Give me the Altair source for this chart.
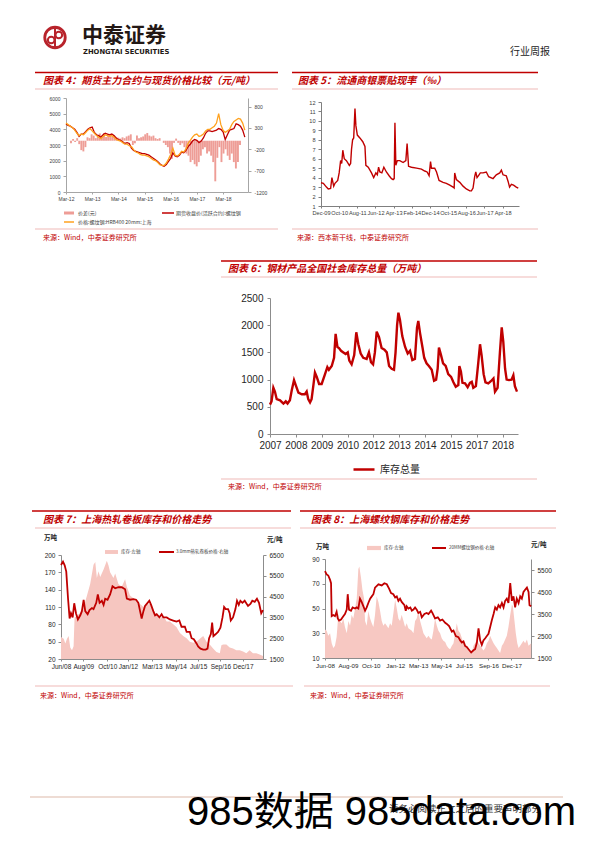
import json
import altair as alt
import pandas as pd

W, H = 580, 826
M = 8

RED = "#C00000"
ORANGE = "#FFA21F"
PINK4 = "#EE9D96"
PINK7 = "#F6C6C0"
PINK8 = "#F7C8C2"
THIN = "#EBA7A5"
CJK = "Noto Sans CJK SC"
LAT = "Liberation Sans"

# ---------------- chart 4 data ----------------
c4_xlabels = ["Mar-12", "Mar-13", "Mar-14", "Mar-15", "Mar-16", "Mar-17", "Mar-18"]
c4_xticks = [0, 12, 24, 36, 48, 60, 72]
c4_names = ["价差(元)", "期货收盘价(活跃合约):螺纹钢", "价格:螺纹钢:HRB400 20mm:上海"]
c4_futures = [4350, 4250, 4200, 4100, 4000, 3800, 3550, 3700, 3700, 3850,
              4000, 4100, 4150, 3800, 3650, 3600, 3500, 3650, 3750, 3700,
              3650, 3700, 3600, 3450, 3350, 3300, 3200, 3100, 3150, 3100,
              2800, 2650, 2600, 2550, 2500, 2450, 2450, 2400, 2350, 2250,
              2150, 2050, 1950, 1800, 1700, 1650, 1750,
              1950, 2150, 2500, 2300, 2250, 2350, 2550, 2500, 2650, 2900,
              3050, 3250, 3350, 3300, 3150, 3250, 3450, 3750, 3900, 3900,
              3850, 3900, 3950, 4050, 4000, 3850, 3350, 3650, 3950, 4000,
              4050, 4350, 4300, 4200, 3950, 3500]
c4_spot = [4400, 4300, 4200, 4100, 3950, 3750, 3600, 3700, 3650, 3800,
           3950, 4050, 3900, 3750, 3600, 3500, 3400, 3550, 3650, 3600,
           3550, 3600, 3500, 3350, 3300, 3250, 3150, 3050, 3050, 2950,
           2900, 2700, 2550, 2500, 2400, 2350, 2350, 2300, 2250, 2150,
           2050, 2000, 1900, 1750, 1700, 1700, 1850,
           2100, 2400, 2800, 2350, 2300, 2400, 2600, 2550, 2750, 3100,
           3300, 3500, 3650, 3700, 3550, 3600, 3700, 3900, 4000, 4000,
           4100, 4200, 4400, 5000, 4300, 3950, 3800, 3900, 4000, 4300,
           4500, 4600, 4700, 4650, 4400, 3950]
c4_spread = [-60, 40, -30, 60, -80, -220, -250, -150, 80, 60,
             150, 120, 60, 100, 170, 120, 180, 90, 130, 160,
             100, 120, 90, 70, 50, 80, 60, 100, 120, 150,
             -100, -60, 120, 60, 80, 100, 150, 180, 120, 100,
             120, 60, 40, 60, 0, -50, -100,
             -150, -300, -420, -50, 50, -50, -100, -60, -150, -300,
             -350, -500, -450, -550, -600, -500, -350, -200, -150, -300,
             -250, -350, -500, -950, -400, -150, -500, -300, -200, -350,
             -450, -300, -500, -650, -500, -100]
c4_months = list(range(len(c4_futures)))

# ---------------- chart 5 data ----------------
c5_xlabels = ["Dec-09", "Oct-10", "Aug-11", "Jun-12", "Apr-13", "Feb-14",
              "Dec-14", "Oct-15", "Aug-16", "Jun-17", "Apr-18"]
c5_xticks = [0, 10, 20, 30, 40, 50, 60, 70, 80, 90, 100]
c5_month = [0, 1.3, 3, 4, 5.3, 6, 7, 7.7, 9.2, 10,
            10.8, 11.4, 12, 12.8, 14, 15.6, 16.3, 16.8, 17.4, 18,
            18.7, 19.2, 20, 21.4, 23, 24.2, 24.7, 26, 27.8, 29,
            30.2, 31, 31.7, 32.4, 33.5, 34.6, 36, 37.5, 38.8, 39.7,
            40.3, 40.7, 41.2, 42, 43.4, 45.2, 46.7, 47.4, 48.2, 49.8,
            52.6, 55.3, 57.1, 58.4, 59.5, 60.3, 60.8, 62.6, 63.6, 65,
            67.2, 69, 70.9, 72.7, 73.3, 73.6, 74.5, 76.4, 78.2, 80,
            81.9, 82.8, 83.7, 84.6, 85.2, 85.9, 87, 87.7, 89.2, 91,
            92.3, 94.7, 96.5, 98.4, 99.3, 100.2, 102, 103, 103.8, 104.8,
            106, 107.5, 108.6]
c5_rate = [3.46, 3.4, 3.0, 2.8, 2.85, 4.0, 3.1, 3.4, 3.7, 4.5,
           5.8, 5.5, 6.9, 6.0, 5.8, 5.3, 5.5, 7.0, 8.0, 8.2,
           11.3, 9.5, 8.5, 8.2, 7.8, 7.3, 5.3, 5.1, 4.5, 4.0,
           4.5, 4.3, 5.1, 4.6, 4.5, 5.1, 4.6, 4.2, 3.9, 3.8,
           3.9, 9.8, 5.3, 5.8, 5.8, 5.6, 5.8, 7.6, 5.2, 5.1,
           5.0, 4.9, 4.7, 4.6, 4.2, 5.7, 5.0, 5.0, 4.6, 3.7,
           3.5, 3.4, 3.2, 3.0, 2.9, 4.5, 3.8, 3.5, 3.1, 2.8,
           2.6, 2.6, 2.9, 4.1, 4.6, 4.0, 4.3, 4.5, 4.5, 4.6,
           4.1, 3.9, 4.3, 4.5, 4.8, 4.3, 4.2, 3.6, 3.0, 3.3,
           3.2, 3.0, 2.9]

# ---------------- chart 6 data ----------------
c6_xlabels = ["2007", "2008", "2009", "2010", "2012", "2013", "2014", "2015", "2017", "2018"]
c6_xticks = [0, 10, 20, 30, 40, 50, 60, 70, 80, 90]
c6_name = "库存总量"
c6_pos = [0, 0.6, 1.3, 1.9, 2.6, 3.9, 5.2, 6.1, 6.8, 7.7,
          8.4, 9.3, 10.1, 11, 12.3, 13.5, 14.2, 14.8, 15.5, 16.1,
          16.8, 17.4, 18.1, 19, 20, 21.3, 22.2, 22.8, 23.9, 24.8,
          25.4, 26.1, 26.7, 27.5, 28.4, 29.3, 30.1, 30.7, 31.6, 32.6,
          33.4, 34.2, 35.1, 36.1, 37.4, 38.3, 39.1, 39.9, 40.6, 41.3,
          42.2, 43.2, 44.3, 45.2, 46.1, 47.1, 48, 48.6, 49.2, 49.7,
          50.3, 51.2, 52.3, 53.3, 54.2, 55.1, 56.1, 56.9, 57.4, 58.1,
          59, 59.7, 60.6, 61.5, 62.6, 63.5, 64.3, 64.9, 65.4, 66.2,
          67, 68, 69, 70.1, 71, 71.9, 72.9, 73.3, 73.9, 74.5,
          75.5, 76.5, 77.4, 78.1, 78.7, 79.7, 80.6, 81.3, 81.9, 82.7,
          83.4, 84.5, 85.5, 86.5, 87.1, 88.1, 89, 89.7, 90.3, 91,
          91.6, 92.5, 93.5, 94.2, 94.8, 95.6]
c6_stock = [540, 600, 850, 780, 640, 620, 560, 600, 560, 620,
            800, 990, 880, 760, 730, 730, 780, 640, 580, 640,
            900, 1130, 1050, 920, 920, 1100, 1230, 1180, 1250, 1400,
            1840, 1600, 1580, 1530, 1500, 1470, 1500, 1350, 1280, 1450,
            1870, 1650, 1480, 1400, 1380, 1500, 1320, 1280, 1500, 1880,
            1780, 1580, 1550, 1500, 1250, 1200, 1180, 1500, 2000, 2230,
            2100, 1800, 1600, 1480, 1530, 1360, 1380, 1950, 2080, 1850,
            1600, 1400, 1300, 1250, 1180, 980, 1000, 1200, 1590, 1450,
            1300, 1250, 1100, 1050, 950, 870, 900, 1250, 1150, 940,
            930, 860, 940, 960, 850, 880, 1300, 1650, 1450, 1100,
            950, 930, 970, 1020, 780, 850, 1500, 1960, 1700, 1200,
            1000, 990, 1000, 1080, 880, 780]

# ---------------- chart 7 data ----------------
c7_xlabels = ["Jun/08", "Aug/09", "Oct/10", "Jan/12", "Mar/13", "May/14", "Jul/15", "Sep/16", "Dec/17"]
c7_xticks = [0, 14, 29, 42, 57, 72, 86, 100, 114]
c7_names = ["库存-左轴", "3.0mm热轧卷板价格-右轴"]
c7_price_m = [0, 1.25, 2.3, 3.3, 4.4, 5.4, 6.25, 7.3, 8.3, 9.4,
              10.6, 12.1, 13.1, 14.2, 15.2, 16.7, 17.9, 19.4, 20.4, 22.1,
              23.1, 24.2, 25.6, 26.7, 27.7, 29.2, 30.8, 32.3, 34, 36,
              38.1, 40.2, 41.3, 43.3, 45.4, 47.1, 48.5, 49.6, 50.6, 51.7,
              52.7, 53.8, 55.4, 56.5, 57.9, 59, 60, 61.7, 63.1, 64.2,
              66.3, 68.3, 70.4, 72.5, 74.2, 75.6, 77.7, 78.8, 80.8, 81.9,
              83.3, 85, 86, 87.5, 89.2, 90.8, 91.9, 92.9, 94, 94.8,
              95.6, 97.1, 98.5, 100, 101.3, 102.3, 103.3, 104.8, 105.8, 106.5,
              107.9, 109.4, 110.4, 111.5, 112.5, 113.8, 115.2, 117.3, 118.8, 120,
              121.5, 122.9, 124.2, 125.6, 126.7]
c7_price = [6020, 6180, 6000, 5700, 4420, 3450, 3700, 3500, 4180, 3700,
            3400, 3600, 3800, 4340, 3800, 3650, 3850, 3950, 3900, 4200,
            4600, 4200, 4300, 4100, 4400, 4350, 4600, 5000, 4900, 4950,
            4950, 4850, 4400, 4350, 4380, 4350, 4200, 3800, 3450, 3800,
            4050, 4150, 4300, 4100, 3800, 3600, 3650, 3500, 3650, 3500,
            3500, 3400, 3350, 3300, 3350, 3050, 3050, 2800, 2800, 2500,
            2450, 2250, 2100, 2000, 1950, 1950, 2000, 2500, 2700, 3250,
            2600, 2700, 2800, 3000, 3500, 4000, 3900, 3900, 3700, 3350,
            3500, 3900, 4300, 4100, 4300, 4200, 4300, 4050, 4150, 4300,
            4250, 4400, 4200, 3700, 3850]
c7_stock_m = [0, 1.7, 2.7, 3.75, 4.8, 5.8, 6.9, 7.9, 8.5, 10,
              12.1, 14.2, 16.3, 18.3, 20.4, 21.5, 22.5, 23.5, 24.6, 26.7,
              28.75, 29.8, 30.8, 32.9, 34, 36, 38.1, 40.2, 41.3, 43.3,
              45.4, 47.5, 49.6, 51.7, 53.75, 55.8, 57.9, 60, 62.1, 64.2,
              66.25, 68.3, 70.4, 72.5, 74.6, 76.7, 78.75, 80.8, 82.9, 85,
              87.1, 89.2, 91.25, 93.3, 95.4, 97.5, 99.6, 100.6, 101.7, 103.75,
              105.8, 107.9, 110, 112.1, 114.2, 116.25, 118.3, 120.4, 122.5, 124.6,
              126.7]
c7_stock = [58, 55, 47, 55, 60, 40, 35, 42, 92, 95,
            100, 110, 130, 150, 183, 188, 160, 172, 162, 175,
            190, 182, 170, 160, 168, 150, 145, 158, 145, 130,
            125, 120, 115, 110, 114, 115, 105, 95, 90, 95,
            85, 85, 80, 75, 65, 60, 56, 50, 48, 50,
            55, 60, 50, 45, 38, 32, 30, 44, 45, 45,
            40, 38, 35, 35, 33, 30, 35, 30, 30, 28,
            25]

# ---------------- chart 8 data ----------------
c8_xlabels = ["Jun-08", "Aug-09", "Oct-10", "Jan-12", "Mar-13", "May-14", "Jul-15", "Sep-16", "Dec-17"]
c8_xticks = [0, 14, 28, 43, 57, 71, 85, 100, 114]
c8_names = ["库存-左轴", "20MM螺纹钢价格-右轴"]
c8_price_m = [0, 1, 2, 3.1, 3.7, 4.1, 5.1, 6.1, 7.1, 7.8,
              8.6, 9.8, 11.2, 12.2, 13.3, 13.9, 14.7, 15.9, 16.9, 18.4,
              19.4, 20.4, 21.4, 22.4, 23.5, 24.5, 25.5, 26.5, 27.6, 28.6,
              29.6, 30.6, 32.7, 34.7, 36.3, 37.8, 39.2, 40.4, 41.8, 42.9,
              43.9, 44.9, 45.9, 46.9, 48.6, 49.4, 50, 51, 52.2, 53.1,
              54.1, 55.1, 56.1, 57.1, 58.2, 59.2, 60.8, 62.2, 63.3, 64.9,
              65.7, 67.3, 69, 70.4, 71.8, 73.5, 74.5, 75.9, 77.6, 78.6,
              80, 81.6, 82.7, 83.7, 84.7, 85.7, 86.7, 87.8, 89.4, 90.8,
              91.8, 92.9, 93.9, 94.9, 95.9, 96.9, 98, 99, 100, 101,
              102, 103.1, 104.1, 105.1, 106.1, 107.1, 108.2, 109.2, 110.2, 111.2,
              112.2, 113.3, 114.3, 115.3, 116.3, 117.3, 118.4, 119.4, 120.4, 121.4,
              122.4, 123.5, 124.5, 125.1, 126.1]
c8_price = [5450, 5300, 5250, 5050, 4900, 3400, 3450, 3400, 3600, 3300,
            3200, 3250, 3400, 3500, 3700, 4400, 3700, 3650, 3800, 3750,
            3800, 3750, 4200, 4050, 3850, 3650, 3800, 4000, 4200, 4300,
            4400, 4700, 4850, 4800, 4900, 4850, 4650, 4450, 4400, 4250,
            4300, 4100, 4200, 4050, 3900, 3650, 3850, 3750, 3800, 3650,
            3700, 3800, 3700, 3550, 3600, 3350, 3500, 3550, 3500, 3650,
            3550, 3300, 3350, 3200, 3250, 3100, 3050, 2950, 2700, 2750,
            2500, 2450, 2300, 2200, 2250, 2050, 2000, 1900, 1750, 1850,
            1900, 2200, 2850, 2300, 2100, 2300, 2400, 2500, 2600, 2900,
            3200, 3500, 3800, 3700, 3900, 3800, 4000, 3800, 4100, 4200,
            4000, 4900, 4100, 4300, 3800, 4200, 4000, 4300, 4200, 4500,
            4600, 4700, 4500, 3900, 3850]
c8_stock_m = [0, 1, 2, 3.1, 4.1, 5.1, 6.1, 7.1, 8.2, 9.2,
              10.2, 11.2, 12.2, 13.3, 14.3, 15.3, 16.3, 17.3, 18.4, 19.4,
              20.4, 21, 22, 22.9, 23.9, 24.5, 25.5, 26.5, 27.6, 28.6,
              29.6, 30.6, 31.6, 32.7, 33.7, 34.7, 35.7, 36.7, 37.8, 38.8,
              39.8, 40.8, 41.8, 42.9, 43.9, 44.9, 45.9, 46.9, 48, 49,
              50, 51, 53.1, 54.1, 55.1, 56.1, 57.1, 58.2, 59.2, 60.2,
              61.2, 62.2, 63.3, 64.3, 65.3, 66.3, 67.3, 68.4, 69.4, 70.4,
              71.4, 72.4, 73.5, 74.5, 75.5, 76.5, 77.6, 78.6, 79.6, 80.6,
              81.6, 82.7, 83.7, 84.7, 85.7, 86.7, 87.8, 88.8, 89.8, 90.8,
              91.8, 92.9, 93.9, 94.9, 95.9, 96.9, 98, 99, 100, 101,
              102, 103.1, 104.1, 105.1, 106.1, 107.1, 108.2, 109.2, 110.2, 111.2,
              112.2, 113.3, 114.3, 114.9, 115.9, 116.7, 117.6, 118.4, 119.4, 120.4,
              121.4, 122.4, 123.5, 124.5, 126.1]
c8_stock = [33, 32, 28, 30, 22, 18, 20, 27, 46, 40,
            38, 42, 35, 30, 40, 36, 45, 42, 50, 58,
            82, 84, 75, 65, 58, 40, 36, 48, 42, 38,
            35, 45, 60, 55, 48, 40, 36, 38, 36, 34,
            38, 36, 46, 57, 50, 42, 40, 45, 40, 35,
            38, 34, 32, 30, 40, 42, 48, 40, 35, 30,
            28, 26, 28, 26, 25, 32, 42, 36, 32, 30,
            26, 24, 23, 20, 18, 17, 20, 22, 30, 38,
            32, 30, 26, 22, 20, 18, 17, 15, 14, 20,
            22, 25, 22, 20, 18, 16, 18, 22, 24, 28,
            25, 22, 20, 18, 16, 14, 20, 22, 25, 28,
            35, 45, 53, 52, 40, 30, 22, 18, 20, 22,
            24, 22, 25, 20, 22]

# ---------------- page texts ----------------
titles = ["图表 4：期货主力合约与现货价格比较（元/吨）",
          "图表 5：流通商银票贴现率（‰）",
          "图表 6：钢材产品全国社会库存总量（万吨）",
          "图表 7：上海热轧卷板库存和价格走势",
          "图表 8：上海螺纹钢库存和价格走势"]
src_wind = "来源：Wind，中泰证券研究所"
src_xb = "来源：西本新干线，中泰证券研究所"


# ---------------- helpers ----------------
def px(v):
    return v - M


one = pd.DataFrame({"k": [0]})


def lab_expr(ticks, labels):
    return "%s[indexof(%s, datum.value)]" % (json.dumps(labels, ensure_ascii=False), json.dumps(ticks))


def xscale(dom, p0, p1):
    return alt.Scale(domain=dom, range=[px(p0), px(p1)], nice=False, zero=False)


def yscale(dom, pb, pt):
    return alt.Scale(domain=dom, range=[px(pb), px(pt)], nice=False, zero=False)


def common(size, color="#404040", dom="#A6A6A6"):
    return dict(labelFont=LAT, labelFontSize=size, labelColor=color, domainColor=dom,
                tickColor=dom, grid=False, title=None, labelOverlap=False,
                labelFlush=False, labelBound=False, domainWidth=1, tickWidth=1, labelAngle=0)


def xaxis(page_y, ticks, labels, size, tick=2, pad=2, **kw):
    return alt.Axis(orient="bottom", offset=px(page_y) - H, values=ticks,
                    labelExpr=lab_expr(ticks, labels), tickSize=tick, labelPadding=pad,
                    **common(size, **kw))


def yaxis(page_x, side, ticks, size, tick=3, pad=3, **kw):
    off = -px(page_x) if side == "left" else px(page_x) - W
    return alt.Axis(orient=side, offset=off, values=ticks, labelExpr="'' + datum.value",
                    tickSize=tick, labelPadding=pad, **common(size, **kw))


RECT = "M-1,-0.3H1V0.3H-1Z"


def legend(x0, x1, y, symtype, font=5, stroke=None, loff=3, color="#404040"):
    w = x1 - x0
    kw = dict(orient="none", legendX=px(x0), legendY=px(y) - w / 2, title=None,
              symbolType=symtype, symbolSize=w * w, labelFont=CJK, labelFontSize=font,
              labelColor=color, labelOffset=loff, padding=0, labelLimit=400,
              symbolOpacity=1)
    if stroke:
        kw["symbolStrokeWidth"] = stroke
    return alt.Legend(**kw)


def colorenc(name, col, lg):
    return alt.Color("s:N", scale=alt.Scale(domain=[name], range=[col]), legend=lg)


def txt(s, x, y, size, color="#333333", font=CJK, weight="normal", style="normal",
        align="left", baseline="middle"):
    return alt.Chart(one).mark_text(text=s, fontSize=size, color=color, font=font,
                                    fontWeight=weight, fontStyle=style, align=align,
                                    baseline=baseline).encode(x=alt.value(px(x)), y=alt.value(px(y)))


def hline(x1, x2, y, color, width):
    return alt.Chart(one).mark_rule(color=color, strokeWidth=width).encode(
        x=alt.value(px(x1)), x2=alt.value(px(x2)), y=alt.value(px(y)))


layers = []

# ---------------- header ----------------
LOGO = "#B8232B"
layers.append(alt.Chart(one).mark_point(shape="circle", filled=False, color=LOGO, strokeWidth=2.8,
                                        size=420, opacity=1).encode(x=alt.value(px(55)), y=alt.value(px(37.5))))
layers.append(alt.Chart(one).mark_rule(color=LOGO, strokeWidth=2).encode(
    x=alt.value(px(55)), y=alt.value(px(27)), y2=alt.value(px(48))))
layers.append(alt.Chart(one).mark_point(shape="circle", filled=False, color=LOGO, strokeWidth=2,
                                        size=45, opacity=1).encode(x=alt.value(px(51.2)), y=alt.value(px(40))))
layers.append(alt.Chart(one).mark_point(shape="circle", filled=False, color=LOGO, strokeWidth=2,
                                        size=45, opacity=1).encode(x=alt.value(px(58.8)), y=alt.value(px(35))))
layers.append(txt("中泰证券", 82, 35.5, 21, color="#231815", weight="bold"))
layers.append(txt("ZHONGTAI SECURITIES", 83, 51.5, 6.8, color="#231815", font="DejaVu Sans", weight="bold"))
layers.append(txt("行业周报", 510, 51.5, 10, color="#222222"))

# ---------------- frames: rules, titles, sources ----------------
for (a, b, y) in [(35, 278, 72.5), (292, 538, 72.5), (221, 537, 261), (32, 291, 511), (300, 556, 511)]:
    layers.append(hline(a, b, y, RED, 1.6))
for (a, b, y) in [(35, 278, 89), (292, 538, 89), (35, 278, 229), (292, 538, 229),
                  (221, 537, 277), (221, 537, 479),
                  (35, 291, 528), (300, 556, 528), (35, 293, 686), (304, 550, 686)]:
    layers.append(hline(a, b, y, THIN, 0.8))
for (t, x, y) in zip(titles, [43, 298, 228, 43, 311], [81, 81, 268.5, 520, 520]):
    layers.append(txt(t, x, y, 10, color=RED, weight="bold", style="italic"))
for (t, x, y) in [(src_wind, 43, 238), (src_xb, 297, 237.5), (src_wind, 228, 487),
                  (src_wind, 40, 696), (src_wind, 310, 696)]:
    layers.append(txt(t, x, y, 7, color=RED))

# ---------------- chart 4 ----------------
x4 = xscale([0, 83.45], 66, 248)
y4l = yscale([0, 6000], 192, 98)
y4r = yscale([-1200, 1000], 192, 98)
d4a = pd.DataFrame({"m": c4_months, "v": c4_spread, "s": c4_names[0]})
d4f = pd.DataFrame({"m": c4_months, "v": c4_futures, "s": c4_names[1]})
d4s = pd.DataFrame({"m": c4_months, "v": c4_spot, "s": c4_names[2]})
layers.append(alt.Chart(d4a).mark_bar(opacity=1, size=1.9).encode(
    x=alt.X("m:Q", scale=x4, axis=None),
    y=alt.Y("v:Q", scale=y4r, axis=yaxis(248, "right", [-1200, -700, -200, 300, 800], 5)),
    y2=alt.datum(0),
    color=colorenc(c4_names[0], PINK4, legend(63, 73, 212, RECT, loff=3))))
layers.append(alt.Chart(d4f).mark_line(strokeWidth=1.3).encode(
    x=alt.X("m:Q", scale=x4, axis=xaxis(192, c4_xticks, c4_xlabels, 5)),
    y=alt.Y("v:Q", scale=y4l, axis=yaxis(66, "left", [0, 1000, 2000, 3000, 4000, 5000, 6000], 5)),
    color=colorenc(c4_names[1], RED, legend(161, 173, 212, "stroke", stroke=1.5, loff=1))))
layers.append(alt.Chart(d4s).mark_line(strokeWidth=1.3).encode(
    x=alt.X("m:Q", scale=x4, axis=None),
    y=alt.Y("v:Q", scale=y4l, axis=None),
    color=colorenc(c4_names[2], ORANGE, legend(63, 73, 221, "stroke", stroke=1.5, loff=3))))

# ---------------- chart 5 ----------------
d5 = pd.DataFrame({"m": c5_month, "v": c5_rate})
layers.append(alt.Chart(d5).mark_line(strokeWidth=1.4, color=RED).encode(
    x=alt.X("m:Q", scale=xscale([0, 109], 321, 519),
            axis=xaxis(206, c5_xticks, c5_xlabels, 5.6, dom="#7F7F7F")),
    y=alt.Y("v:Q", scale=yscale([1, 12], 206, 102),
            axis=yaxis(321, "left", list(range(1, 13)), 5.6, dom="#7F7F7F"))))

# ---------------- chart 6 ----------------
d6 = pd.DataFrame({"m": c6_pos, "v": c6_stock, "s": c6_name})
layers.append(alt.Chart(d6).mark_line(strokeWidth=2.4).encode(
    x=alt.X("m:Q", scale=xscale([0, 96], 270, 518),
            axis=xaxis(434, c6_xticks, c6_xlabels, 10, tick=3, pad=3, color="#262626", dom="#8C8C8C")),
    y=alt.Y("v:Q", scale=yscale([0, 2500], 434, 298),
            axis=yaxis(270, "left", [0, 500, 1000, 1500, 2000, 2500], 10, tick=3, pad=4,
                       color="#262626", dom="#8C8C8C")),
    color=colorenc(c6_name, RED, legend(352, 373, 468, "stroke", font=10, stroke=2.5, loff=4,
                                        color="#262626"))))

# ---------------- chart 7 ----------------
x7 = xscale([0, 126.7], 61, 263)
d7a = pd.DataFrame({"m": c7_stock_m, "v": c7_stock, "s": c7_names[0]})
d7p = pd.DataFrame({"m": c7_price_m, "v": c7_price, "s": c7_names[1]})
layers.append(alt.Chart(d7a).mark_area(opacity=1).encode(
    x=alt.X("m:Q", scale=x7, axis=None),
    y=alt.Y("v:Q", scale=yscale([20, 200], 659, 555),
            axis=yaxis(61, "left", list(range(20, 201, 30)), 6.5, color="#262626", dom="#8C8C8C")),
    y2=alt.datum(20),
    color=colorenc(c7_names[0], PINK7, legend(104, 117, 551, RECT, font=4.5, loff=2))))
layers.append(alt.Chart(d7p).mark_line(strokeWidth=1.8).encode(
    x=alt.X("m:Q", scale=x7, axis=xaxis(659, c7_xticks, c7_xlabels, 6.5, color="#262626", dom="#8C8C8C")),
    y=alt.Y("v:Q", scale=yscale([1500, 6500], 659, 555),
            axis=yaxis(263, "right", list(range(1500, 6501, 1000)), 6.5, color="#262626", dom="#8C8C8C")),
    color=colorenc(c7_names[1], RED, legend(158, 173, 551, "stroke", font=4.5, stroke=2, loff=1))))
layers.append(txt("万吨", 44, 538, 6.5, color="#222222", weight="bold"))
layers.append(txt("元/吨", 267, 540, 6.5, color="#222222", weight="bold"))

# ---------------- chart 8 ----------------
x8 = xscale([0, 126], 325, 531)
d8a = pd.DataFrame({"m": c8_stock_m, "v": c8_stock, "s": c8_names[0]})
d8p = pd.DataFrame({"m": c8_price_m, "v": c8_price, "s": c8_names[1]})
layers.append(alt.Chart(d8a).mark_area(opacity=1).encode(
    x=alt.X("m:Q", scale=x8, axis=None),
    y=alt.Y("v:Q", scale=yscale([10, 90], 658, 559),
            axis=yaxis(325, "left", [10, 30, 50, 70, 90], 6.5, color="#262626", dom="#8C8C8C")),
    y2=alt.datum(10),
    color=colorenc(c8_names[0], PINK8, legend(366, 380, 547, RECT, font=4.5, loff=2))))
layers.append(alt.Chart(d8p).mark_line(strokeWidth=1.8).encode(
    x=alt.X("m:Q", scale=x8, axis=xaxis(658, c8_xticks, c8_xlabels, 6.2, color="#262626", dom="#8C8C8C")),
    y=alt.Y("v:Q", scale=yscale([1500, 6000], 658, 559),
            axis=yaxis(531, "right", [1500, 2500, 3500, 4500, 5500], 6.5, color="#262626", dom="#8C8C8C")),
    color=colorenc(c8_names[1], RED, legend(431, 445, 547, "stroke", font=4.5, stroke=2, loff=2))))
layers.append(txt("万吨", 316, 547, 6.5, color="#222222", weight="bold"))
layers.append(txt("元/吨", 531, 545, 6.5, color="#222222", weight="bold"))

# ---------------- footer ----------------
layers.append(hline(30, 563, 797, "#DDB9A9", 1))
layers.append(txt("5", 297, 809, 7, color="#333333", font=LAT))
layers.append(txt("请务必阅读正文之后的重要声明部分", 389, 809, 9.5, color="#333333"))
layers.append(txt("985数据 985data.com", 187, 813, 40, color="#000000", font="Liberation Sans, Noto Sans CJK SC"))

chart = alt.layer(*layers).resolve_scale(
    x="independent", y="independent", color="independent"
).properties(
    width=W, height=H, autosize=alt.AutoSizeParams(type="none"), padding=0
).configure_view(stroke=None)

chart.save("out.html", embed_options={"renderer": "svg", "actions": False})
